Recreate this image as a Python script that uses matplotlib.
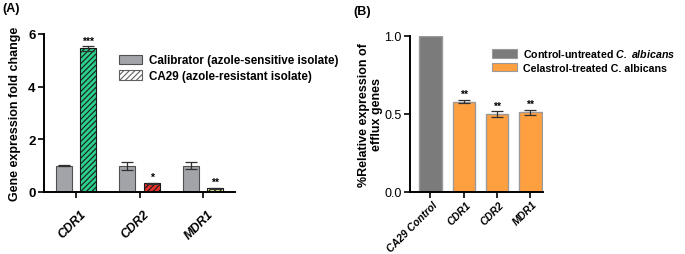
import matplotlib
matplotlib.use("Agg")
import matplotlib.pyplot as plt
import matplotlib.transforms as mtrans
from matplotlib.patches import Patch
import numpy as np

plt.rcParams['font.family'] = ['Liberation Sans', 'DejaVu Sans']
plt.rcParams['mathtext.fontset'] = 'custom'
plt.rcParams['mathtext.bfit'] = 'Liberation Sans:bold:italic'
plt.rcParams['mathtext.it'] = 'Liberation Sans:italic'
plt.rcParams['hatch.linewidth'] = 0.8

# Panel A data
genes_a = ["CDR1", "CDR2", "MDR1"]
calib_vals = [1.0, 1.0, 1.0]
calib_err = [0.02, 0.15, 0.13]
ca29_vals = [5.45, 0.33, 0.15]
ca29_err = [0.08, 0.03, 0.02]
ca29_colors = ["#2bd08c", "#e8302c", "#e8f0a0"]
ca29_stars = ["***", "*", "**"]

# Panel B data
cats_b = ["CA29 Control", "CDR1", "CDR2", "MDR1"]
vals_b = [1.0, 0.58, 0.50, 0.51]
err_b = [0.0, 0.012, 0.018, 0.016]
stars_b = ["", "**", "**", "**"]

W, H = 685, 255
fig = plt.figure(figsize=(W / 100, H / 100), dpi=100)

def ax_px(l, t, r, b):
    return fig.add_axes([l / W, 1 - b / H, (r - l) / W, (b - t) / H])

def style(ax):
    for s in ["top", "right"]:
        ax.spines[s].set_visible(False)
    for s in ["left", "bottom"]:
        ax.spines[s].set_linewidth(1.4)
    ax.tick_params(width=1.2, length=4, direction="out", pad=2)

def shift_labels(ax, dx_px):
    off = mtrans.ScaledTranslation(dx_px / 100, 0, fig.dpi_scale_trans)
    for lab in ax.get_xticklabels():
        lab.set_transform(lab.get_transform() + off)

# ---------- Panel A ----------
axA = ax_px(44, 35, 235, 193)
style(axA)
x = np.arange(len(genes_a))
off = 0.19
bw = 0.25
axA.bar(x - off, calib_vals, bw, color="#a3a3aa", edgecolor="#505050", linewidth=0.8, zorder=2)
axA.errorbar(x - off, calib_vals, yerr=calib_err, fmt="none", ecolor="#303030",
             capsize=4, elinewidth=0.9, capthick=0.9, zorder=3)
for i in range(len(genes_a)):
    axA.bar(x[i] + off, ca29_vals[i], bw, color=ca29_colors[i], edgecolor="#1a1a1a",
            hatch="//////", linewidth=0.8, zorder=2)
axA.errorbar(x + off, ca29_vals, yerr=ca29_err, fmt="none", ecolor="#303030",
             capsize=4, elinewidth=0.9, capthick=0.9, zorder=3)
for i in range(len(genes_a)):
    axA.text(x[i] + off, ca29_vals[i] + ca29_err[i] + 0.02, ca29_stars[i],
             ha="center", va="bottom", fontsize=7.5, fontweight="bold")
axA.set_xlim(-0.5, 2.5)
axA.set_ylim(0, 6)
axA.set_yticks([0, 2, 4, 6])
axA.set_xticks(x)
axA.set_xticklabels(genes_a, rotation=45, ha="right", rotation_mode="anchor",
                    fontsize=9, fontweight="bold", fontstyle="italic")
axA.tick_params(axis="x", pad=7)
shift_labels(axA, 4)
for lab in axA.get_yticklabels():
    lab.set_fontweight("bold")
    lab.set_fontsize(9.5)
axA.set_ylabel("Gene expression fold change", fontsize=9, fontweight="bold", labelpad=5)
handlesA = [Patch(facecolor="#a3a3aa", edgecolor="#505050", linewidth=0.8),
            Patch(facecolor="white", edgecolor="#606060", hatch="//////", linewidth=0.8)]
axA.legend(handlesA, ["Calibrator (azole-sensitive isolate)", "CA29 (azole-resistant isolate)"],
           loc="upper left", bbox_to_anchor=(0.37, 0.90), frameon=False,
           prop={"weight": "bold", "size": 8.4}, handlelength=1.9, handleheight=0.85,
           labelspacing=0.3, handletextpad=0.6, borderaxespad=0)
fig.text(2 / W, 1 - 9 / H, "(A)", fontsize=9, fontweight="bold", va="center")

# ---------- Panel B ----------
axB = ax_px(410, 37, 543, 193)
style(axB)
xb = np.arange(len(cats_b))
colors_b = ["#7b7b7b"] + ["#ffa040"] * 3
axB.bar(xb, vals_b, 0.67, color=colors_b, edgecolor="#9a9a9a", linewidth=1.0, zorder=2)
axB.errorbar(xb[1:], vals_b[1:], yerr=err_b[1:], fmt="none", ecolor="#303030",
             capsize=4, elinewidth=0.9, capthick=0.9, zorder=3)
for i in range(1, len(cats_b)):
    axB.text(xb[i], vals_b[i] + err_b[i] + 0.005, stars_b[i], ha="center", va="bottom",
             fontsize=7.5, fontweight="bold")
axB.set_xlim(-0.615, 3.38)
axB.set_ylim(0, 1.0)
axB.set_yticks([0.0, 0.5, 1.0])
axB.set_yticklabels(["0.0", "0.5", "1.0"], fontsize=9)
axB.set_xticks(xb)
axB.set_xticklabels(cats_b, rotation=45, ha="right", rotation_mode="anchor",
                    fontsize=7.5, fontweight="bold", fontstyle="italic")
axB.tick_params(axis="x", pad=1)
shift_labels(axB, 2)
axB.set_ylabel("%Relative expression of\nefflux genes", fontsize=9, fontweight="bold",
               linespacing=1.1, labelpad=1)
handlesB = [Patch(facecolor="#7b7b7b", edgecolor="#9a9a9a", linewidth=0.8),
            Patch(facecolor="#ffa040", edgecolor="#9a9a9a", linewidth=0.8)]
axB.legend(handlesB, [r"Control-untreated $\mathbfit{C.\ albicans}$", "Celastrol-treated C. albicans"],
           loc="upper left", bbox_to_anchor=(0.585, 0.955), frameon=False,
           prop={"weight": "bold", "size": 7.7}, handlelength=2.3, handleheight=0.85,
           labelspacing=0.3, handletextpad=0.6, borderaxespad=0)
fig.text(353 / W, 1 - 12 / H, "(B)", fontsize=9, fontweight="bold", va="center")

fig.savefig("out.png", dpi=100)
